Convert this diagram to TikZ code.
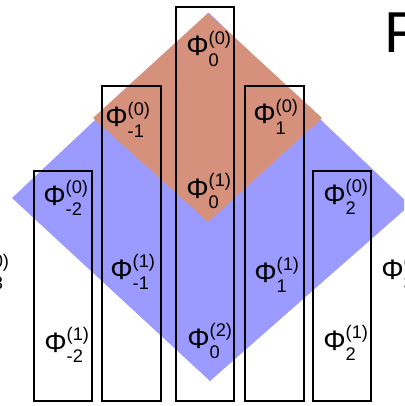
\documentclass[tikz,border=0pt]{standalone}
\usepackage{fontspec}
\setmainfont{Liberation Sans}
\usepackage{tikz}
\definecolor{salmon}{HTML}{D6917C}
\definecolor{lavender}{HTML}{9A9AFF}
% Phi with index pair stacked on its right
\newcommand{\field}[2]{{\fontsize{20}{21}\selectfont Φ}%
  \rlap{\raisebox{8.5pt}{\fontsize{13}{14}\selectfont(#1)}}%
  \raisebox{-7.5pt}{\fontsize{13}{14}\selectfont#2}}

\begin{document}
\begin{tikzpicture}[x=0.025cm,y=-0.025cm,
  slab/.style={draw=black,line width=1.5pt},
  lab/.style={anchor=base west,inner sep=0pt}]
\useasboundingbox (0,0) rectangle (404,406);
\clip (0,0) rectangle (404,406);
% diamonds
\fill[lavender] (209,13)--(12,198)--(210,381)--(410,205)--cycle;
\fill[salmon] (208,13)--(93,118)--(208,222)--(322,118)--cycle;
% columns
\draw[slab] (34,171) rectangle (92,401);
\draw[slab] (102,86) rectangle (161,401);
\draw[slab] (176,7) rectangle (234,401);
\draw[slab] (245,86) rectangle (304,401);
\draw[slab] (313,171) rectangle (371,401);
% labels
\node[lab] (f00) at (186,56) {\field{0}{0}};
\node[lab] (fm10) at (105,127) {\field{0}{-1}};
\node[lab] (f10) at (253,124) {\field{0}{1}};
\node[lab] (f01) at (186,198) {\field{1}{0}};
\node[lab] (fm20) at (43,205) {\field{0}{-2}};
\node[lab] (f20) at (323,204) {\field{0}{2}};
\node[lab] (fm30) at (-36,279) {\field{0}{-3}};
\node[lab] (fm11) at (110,279) {\field{1}{-1}};
\node[lab] (f11) at (254,282) {\field{1}{1}};
\node[lab] (f30) at (381,279) {\field{0}{3}};
\node[lab] (fm21) at (44,352) {\field{1}{-2}};
\node[lab] (f02) at (187,348) {\field{2}{0}};
\node[lab] (f21) at (323,350) {\field{1}{2}};
\node[anchor=base west,inner sep=0pt,font=\fontsize{41}{42}\selectfont] (big) at (384,53) {F};
\end{tikzpicture}
\end{document}
